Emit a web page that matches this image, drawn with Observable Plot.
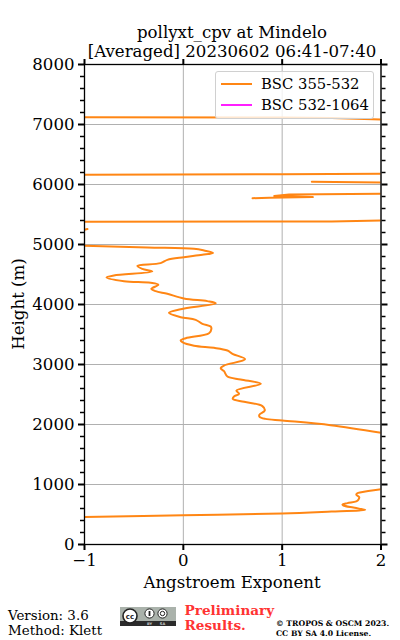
<!DOCTYPE html>
<html><head><meta charset="utf-8">
<script src="https://cdn.jsdelivr.net/npm/d3@7"></script>
<script src="https://cdn.jsdelivr.net/npm/@observablehq/plot@0.6"></script>
<style>
html,body{margin:0;padding:0;background:#fff;}
#wrap{position:relative;width:400px;height:640px;overflow:hidden;font-family:"DejaVu Serif",serif;color:#000;}
#wrap svg.plot{position:absolute;left:0;top:0;}
.t{position:absolute;white-space:nowrap;line-height:1;}
</style></head><body>
<div id="wrap"></div>
<script>
const titleLines = ["pollyxt_cpv at Mindelo", "[Averaged] 20230602 06:41-07:40"];
const xLabel = "Angstroem Exponent";
const yLabel = "Height (m)";
const xTicks = [-1, 0, 1, 2];
const yMajor = [0, 1000, 2000, 3000, 4000, 5000, 6000, 7000, 8000];
const yMinor = [200,400,600,800,1200,1400,1600,1800,2200,2400,2600,2800,3200,3400,3600,3800,4200,4400,4600,4800,5200,5400,5600,5800,6200,6400,6600,6800,7200,7400,7600,7800];
const legendNames = ["BSC 355-532", "BSC 532-1064"];
const legendColors = ["#ff8614", "#ff1fff"];

// BSC 355-532 segments: [Angstroem exponent, height m]
const segLow = [[-1,458],[0,488],[1,517],[1.5,548],[1.78,568],[1.84,578],[1.8,590],[1.72,615],[1.62,650],[1.61,667],[1.66,690],[1.75,718],[1.77,745],[1.78,789],[1.75,830],[1.76,855],[1.8,872],[2,922]];
const segMid = [[2,1861],[1.49,1989],[1,2067],[0.83,2094],[0.77,2130],[0.77,2165],[0.824,2233],[0.80,2306],[0.615,2378],[0.50,2428],[0.513,2467],[0.564,2511],[0.537,2567],[0.784,2678],[0.58,2750],[0.446,2800],[0.412,2888],[0.378,2939],[0.412,2983],[0.625,3089],[0.497,3178],[0.446,3233],[0.31,3278],[0.108,3312],[-0.01,3372],[-0.027,3400],[0.024,3438],[0.26,3522],[0.284,3595],[0.277,3633],[0.193,3678],[0.125,3744],[-0.027,3789],[-0.146,3861],[-0.027,3922],[0.328,4022],[0.243,4056],[0.006,4100],[-0.162,4178],[-0.28,4222],[-0.324,4261],[-0.253,4328],[-0.331,4361],[-0.60,4389],[-0.777,4450],[-0.703,4483],[-0.314,4550],[-0.415,4594],[-0.466,4644],[-0.23,4689],[-0.162,4744],[0.006,4789],[0.193,4828],[0.30,4861],[0.21,4900],[0.108,4928],[-0.365,4950],[-1,4978]];
const segA = [[-1,5245],[-0.97,5258]];
const segB = [[-1,5380],[1.5,5385],[2,5400]];
const segC = [[2,5844],[1.07,5833],[0.92,5808],[1.31,5790],[0.87,5778],[0.7,5772]];
const segD = [[1.3,6044],[2,6033]];
const segE = [[-1,6162],[1,6170],[2,6180]];
const segF = [[-1,7122],[1,7115],[1.5,7110],[2,7085]];
const smooth = [segLow, segMid];
const straight = [segA, segB, segC, segD, segE, segF];
const series532 = [];

const font = '"DejaVu Serif", serif';
const lineMark = (s, curve) => Plot.line(s, {x: d => d[0], y: d => d[1], stroke: legendColors[0], strokeWidth: 2, clip: true, curve});

const chart = Plot.plot({
  width: 400, height: 640,
  marginLeft: 84, marginRight: 19.5, marginTop: 64, marginBottom: 96,
  style: {fontFamily: font, background: "transparent", overflow: "visible"},
  x: {domain: [-1, 2]},
  y: {domain: [0, 8000]},
  marks: [
    Plot.gridX(xTicks, {stroke: "#b0b0b0", strokeOpacity: 1, strokeWidth: 1}),
    Plot.gridY(yMajor, {stroke: "#b0b0b0", strokeOpacity: 1, strokeWidth: 1}),
    ...smooth.map(s => lineMark(s, "catmull-rom")),
    ...straight.map(s => lineMark(s, "linear")),
    Plot.line(series532, {x: d => d[0], y: d => d[1], stroke: legendColors[1]}),
    Plot.frame({stroke: "#000", strokeWidth: 1.3}),
    Plot.axisY(yMinor, {anchor: "left", tickSize: 4, strokeWidth: 1.5, tickFormat: () => "", label: null}),
    Plot.axisY(yMinor, {anchor: "right", tickSize: 4, strokeWidth: 1.5, tickFormat: () => "", label: null}),
    Plot.axisY(yMajor, {anchor: "left", tickSize: 6, strokeWidth: 2, tickPadding: 4, fontSize: 16.6, fill: "#000", label: null, tickFormat: d => String(d)}),
    Plot.axisY(yMajor, {anchor: "right", tickSize: 6, strokeWidth: 2, tickFormat: () => "", label: null}),
    Plot.axisX(xTicks, {anchor: "bottom", tickSize: 6, strokeWidth: 2, tickPadding: 4, fontSize: 16.6, fill: "#000", label: null, tickFormat: d => String(d).replace("-", "\u2212")}),
    Plot.axisX(xTicks, {anchor: "top", tickSize: 6, strokeWidth: 2, tickFormat: () => "", label: null})
  ]
});
const wrap = document.getElementById("wrap");
chart.setAttribute("class", (chart.getAttribute("class") || "") + " plot");
wrap.appendChild(chart);

function addText(txt, left, top, size, extra) {
  const el = document.createElement("div");
  el.className = "t";
  el.textContent = txt;
  el.style.left = left + "px";
  el.style.top = top + "px";
  el.style.fontSize = size + "px";
  Object.assign(el.style, extra || {});
  wrap.appendChild(el);
  return el;
}
// Title
addText(titleLines[0], 232, 25, 16.6, {transform: "translateX(-50%)"});
addText(titleLines[1], 232, 43.5, 16.6, {transform: "translateX(-50%)"});
// Axis labels
addText(xLabel, 232, 575, 16.6, {transform: "translateX(-50%)"});
addText(yLabel, 18.5, 304, 16.6, {transform: "translate(-50%,-50%) rotate(-90deg)"});

// Legend
const leg = document.createElement("div");
leg.style.cssText = "position:absolute;left:215px;top:71px;width:156.5px;height:46px;background:rgba(255,255,255,0.8);border:1px solid #d0d0d0;border-radius:3px;";
wrap.appendChild(leg);
legendNames.forEach((n, i) => {
  const ln = document.createElement("div");
  ln.style.cssText = `position:absolute;left:4.5px;top:${10.5 + i * 21}px;width:31px;height:2px;background:${legendColors[i]};`;
  leg.appendChild(ln);
  const tx = document.createElement("div");
  tx.className = "t";
  tx.textContent = n;
  tx.style.cssText += `left:45px;top:${4.5 + i * 21}px;font-size:14.8px;`;
  leg.appendChild(tx);
});

// Footer
addText("Version: 3.6", 8, 608.5, 13.4);
addText("Method: Klett", 8, 623.5, 13.4);
addText("Preliminary", 184.5, 604, 13.6, {color: "#ff3333", fontWeight: "bold"});
addText("Results.", 184.5, 618.5, 13.6, {color: "#ff3333", fontWeight: "bold"});
addText("\u00a9 TROPOS & OSCM 2023.", 276, 620, 7.7, {fontWeight: "bold"});
addText("CC BY SA 4.0 License.", 276, 629.5, 7.7, {fontWeight: "bold"});

// CC badge
const badge = document.createElement("div");
badge.style.cssText = "position:absolute;left:120px;top:607px;width:56px;height:19px;";
badge.innerHTML = `<svg width="56" height="19" xmlns="http://www.w3.org/2000/svg" style="display:block">
<rect width="56" height="19" fill="#aab2ab"/><rect y="14" width="56" height="5" fill="#2b2b2b"/>
<circle cx="10" cy="9" r="7" fill="#fff" stroke="#222" stroke-width="1.6"/>
<text x="10" y="11.5" font-size="7" font-weight="bold" text-anchor="middle" font-family="DejaVu Sans" fill="#222">cc</text>
<circle cx="29.5" cy="6.5" r="4.6" fill="#fff" stroke="#222" stroke-width="1"/>
<rect x="28.6" y="4" width="1.8" height="5" fill="#222"/>
<circle cx="42.5" cy="6.5" r="4.6" fill="#fff" stroke="#222" stroke-width="1"/>
<circle cx="42.5" cy="6.5" r="2.2" fill="none" stroke="#222" stroke-width="1"/>
<text x="29.5" y="18.3" font-size="3.6" font-weight="bold" text-anchor="middle" font-family="DejaVu Sans" fill="#ccc">BY</text>
<text x="42.5" y="18.3" font-size="3.6" font-weight="bold" text-anchor="middle" font-family="DejaVu Sans" fill="#ccc">SA</text>
</svg>`;
wrap.appendChild(badge);
</script>
</body></html>
